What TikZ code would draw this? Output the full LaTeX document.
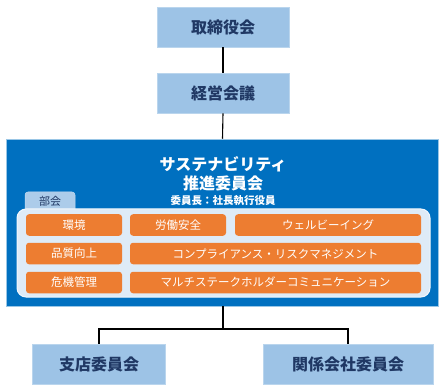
\documentclass[tikz,border=0pt]{standalone}
\usepackage{fontspec}
\setmainfont{Noto Sans CJK JP}
\definecolor{lblue}{HTML}{9DC3E6}
\definecolor{navy}{HTML}{203864}
\definecolor{mblue}{HTML}{0070C0}
\definecolor{panel}{HTML}{DEEBF7}
\definecolor{orng}{HTML}{ED7D31}
\tikzset{
  lbox/.style={rectangle, fill=lblue, draw=lblue!70!white, line width=0.6pt, inner sep=0pt,
    font=\fontsize{16}{16}\selectfont\bfseries, text=navy},
  obox/.style={rectangle, rounded corners=3pt, fill=orng, inner sep=0pt,
    minimum height=21.5pt, font=\fontsize{11.5}{12}\selectfont, text=white},
  conn/.style={draw=black, line width=1.1pt},
}
\begin{document}
\begin{tikzpicture}[x=1pt,y=-1pt]
\useasboundingbox (0,0) rectangle (447,390);
% top boxes
\node[lbox, minimum width=132pt, minimum height=40pt] (board) at (223,27) {取締役会};
\node[lbox, minimum width=132pt, minimum height=40pt] (mgmt) at (223,93) {経営会議};
% big committee
\node[rectangle, fill=mblue, draw=mblue!40!white, line width=0.5pt, minimum width=432pt, minimum height=167pt, inner sep=0pt] (sus) at (222.5,222.5) {};
\node[text=white, font=\fontsize{16}{16}\selectfont\bfseries, inner sep=0pt] (t1) at (223,164) {サステナビリティ};
\node[text=white, font=\fontsize{16}{16}\selectfont\bfseries, inner sep=0pt] (t2) at (223,183) {推進委員会};
\node[text=white, font=\fontsize{10.5}{11}\selectfont\bfseries, inner sep=0pt] (t3) at (223,200.5) {委員長：社長執行役員};
% tab
\path[fill=lblue!85!white, draw=lblue!60!white, line width=0.5pt, rounded corners=3pt] (25,218) -- (25,192) -- (75,192) -- (75,218) -- cycle;
\node[text=navy, font=\fontsize{11}{11}\selectfont, inner sep=0pt] (tab) at (50,201.5) {部会};
% panel
\node[rectangle, rounded corners=9pt, fill=panel, draw=white!60!panel, line width=1pt, minimum width=413pt, minimum height=88pt, inner sep=0pt] (pan) at (223.5,253) {};
% orange boxes
\node[obox, minimum width=96pt] (env) at (74,225) {環境};
\node[obox, minimum width=96pt] (lab) at (178,225) {労働安全};
\node[obox, minimum width=186pt] (well) at (328,225) {ウェルビーイング};
\node[obox, minimum width=96pt] (qual) at (74,253.5) {品質向上};
\node[obox, minimum width=291pt] (comp) at (275.5,253.5) {コンプライアンス・リスクマネジメント};
\node[obox, minimum width=96pt] (risk) at (74,282.5) {危機管理};
\node[obox, minimum width=291pt] (multi) at (275.5,282.5) {マルチステークホルダーコミュニケーション};
% bottom boxes
\node[lbox, minimum width=133pt, minimum height=40pt] (branch) at (99,364) {支店委員会};
\node[lbox, minimum width=170pt, minimum height=40pt] (affil) at (348,364) {関係会社委員会};
% connectors
\coordinate (j) at (223,329);
\draw[conn] (board.south) -- (mgmt.north);
\draw[conn] (mgmt.south) -- (sus.north);
\draw[conn] (sus.south -| j) -- (j);
\draw[conn] (j) -| (branch.north);
\draw[conn] (j) -| (affil.north);
\end{tikzpicture}
\end{document}
